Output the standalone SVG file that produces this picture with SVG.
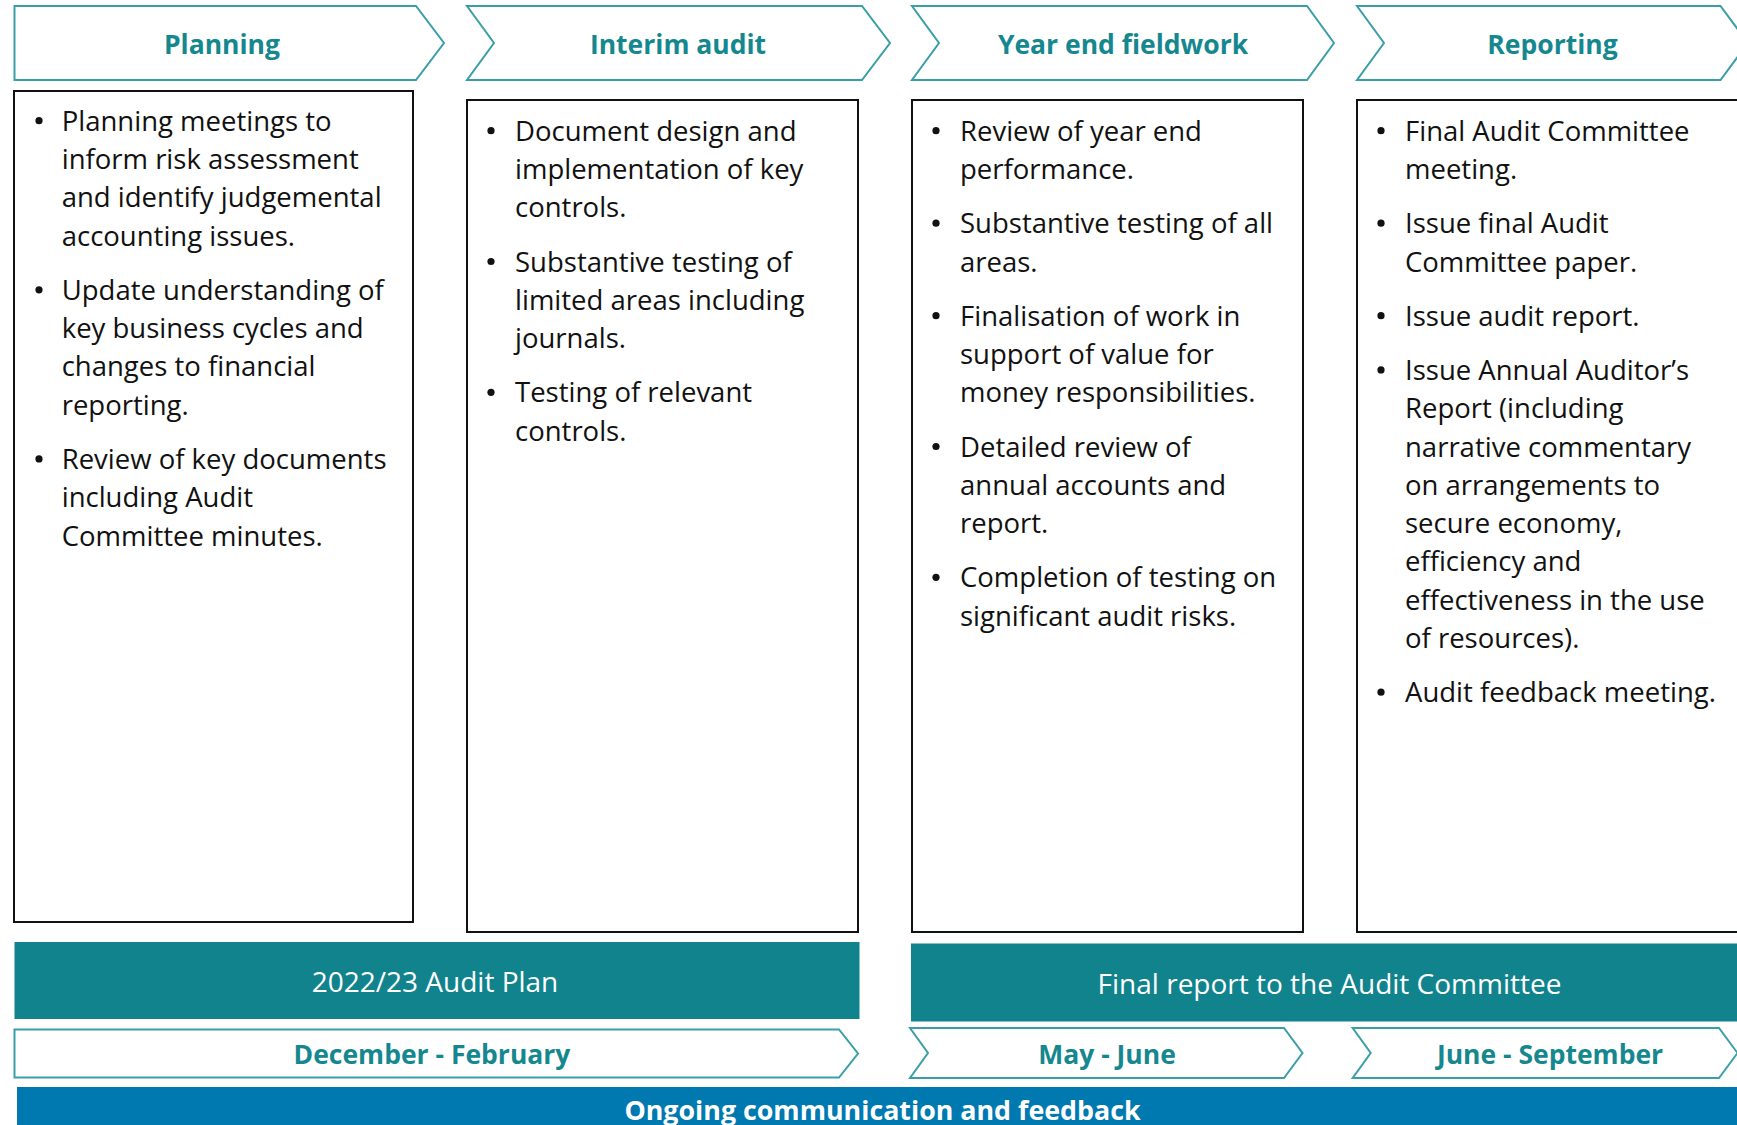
<svg xmlns="http://www.w3.org/2000/svg" width="1737" height="1125" viewBox="0 0 1737 1125">
<style>
.chev{fill:#ffffff;stroke:#3a9ea7;stroke-width:2}
.box{fill:#ffffff;stroke:#111111;stroke-width:2}
.hd{font-family:"Open Sans","Noto Sans",sans-serif;font-weight:700;font-size:26.5px;fill:#14878f;text-anchor:middle}
.dt{font-family:"Open Sans","Noto Sans",sans-serif;font-weight:700;font-size:26.5px;fill:#14878f;text-anchor:middle}
.body{font-family:"Open Sans","Noto Sans",sans-serif;font-size:27.5px;fill:#111111}
.bar{fill:#10838d}
.bt{font-family:"Open Sans","Noto Sans",sans-serif;font-size:28px;fill:#ffffff;text-anchor:middle}
.ong{fill:#0079b0}
.ot{font-family:"Open Sans","Noto Sans",sans-serif;font-weight:700;font-size:26.8px;fill:#ffffff;text-anchor:middle}
.dot{fill:#111111}
</style>
<rect width="1737" height="1125" fill="#ffffff"/>

<g id="planning">
<path class="chev" d="M14.5,6 L416,6 L444,43 L416,80 L14.5,80 Z"/>
<text class="hd" x="222" y="54">Planning</text>
<rect class="box" x="14" y="91" width="399" height="831"/>
<circle class="dot" cx="39" cy="120.7" r="3.6"/>
<circle class="dot" cx="39" cy="289.8" r="3.6"/>
<circle class="dot" cx="39" cy="458.9" r="3.6"/>
<text class="body">
<tspan x="61.7" y="130.7">Planning meetings to</tspan>
<tspan x="61.7" y="169">inform risk assessment</tspan>
<tspan x="61.7" y="207.3">and identify judgemental</tspan>
<tspan x="61.7" y="245.6">accounting issues.</tspan>
<tspan x="61.7" y="299.8">Update understanding of</tspan>
<tspan x="61.7" y="338.1">key business cycles and</tspan>
<tspan x="61.7" y="376.4">changes to financial</tspan>
<tspan x="61.7" y="414.7">reporting.</tspan>
<tspan x="61.7" y="468.9">Review of key documents</tspan>
<tspan x="61.7" y="507.2">including Audit</tspan>
<tspan x="61.7" y="545.5">Committee minutes.</tspan>
</text>
</g>

<g id="interim">
<path class="chev" d="M467,6 L862,6 L890,43 L862,80 L467,80 L494,43 Z"/>
<text class="hd" x="678" y="54">Interim audit</text>
<rect class="box" x="467" y="100" width="391" height="832"/>
<circle class="dot" cx="491" cy="130.7" r="3.6"/>
<circle class="dot" cx="491" cy="261.5" r="3.6"/>
<circle class="dot" cx="491" cy="392.3" r="3.6"/>
<text class="body">
<tspan x="515" y="140.7">Document design and</tspan>
<tspan x="515" y="179">implementation of key</tspan>
<tspan x="515" y="217.3">controls.</tspan>
<tspan x="515" y="271.5">Substantive testing of</tspan>
<tspan x="515" y="309.8">limited areas including</tspan>
<tspan x="515" y="348.1">journals.</tspan>
<tspan x="515" y="402.3">Testing of relevant</tspan>
<tspan x="515" y="440.6">controls.</tspan>
</text>
</g>

<g id="yearend">
<path class="chev" d="M912,6 L1307,6 L1334,43 L1307,80 L912,80 L939,43 Z"/>
<text class="hd" x="1123" y="54">Year end fieldwork</text>
<rect class="box" x="912" y="100" width="391" height="832"/>
<circle class="dot" cx="936" cy="130.7" r="3.6"/>
<circle class="dot" cx="936" cy="223.2" r="3.6"/>
<circle class="dot" cx="936" cy="315.7" r="3.6"/>
<circle class="dot" cx="936" cy="446.5" r="3.6"/>
<circle class="dot" cx="936" cy="577.3" r="3.6"/>
<text class="body">
<tspan x="960" y="140.7">Review of year end</tspan>
<tspan x="960" y="179">performance.</tspan>
<tspan x="960" y="233.2">Substantive testing of all</tspan>
<tspan x="960" y="271.5">areas.</tspan>
<tspan x="960" y="325.7">Finalisation of work in</tspan>
<tspan x="960" y="364">support of value for</tspan>
<tspan x="960" y="402.3">money responsibilities.</tspan>
<tspan x="960" y="456.5">Detailed review of</tspan>
<tspan x="960" y="494.8">annual accounts and</tspan>
<tspan x="960" y="533.1">report.</tspan>
<tspan x="960" y="587.3">Completion of testing on</tspan>
<tspan x="960" y="625.6">significant audit risks.</tspan>
</text>
</g>

<g id="reporting">
<path class="chev" d="M1357,6 L1720.5,6 L1748,43 L1720.5,80 L1357,80 L1384,43 Z"/>
<text class="hd" x="1552.5" y="54">Reporting</text>
<rect class="box" x="1357" y="100" width="420" height="832"/>
<circle class="dot" cx="1381" cy="130.7" r="3.6"/>
<circle class="dot" cx="1381" cy="223.2" r="3.6"/>
<circle class="dot" cx="1381" cy="315.7" r="3.6"/>
<circle class="dot" cx="1381" cy="369.9" r="3.6"/>
<circle class="dot" cx="1381" cy="692.2" r="3.6"/>
<text class="body">
<tspan x="1405" y="140.7">Final Audit Committee</tspan>
<tspan x="1405" y="179">meeting.</tspan>
<tspan x="1405" y="233.2">Issue final Audit</tspan>
<tspan x="1405" y="271.5">Committee paper.</tspan>
<tspan x="1405" y="325.7">Issue audit report.</tspan>
<tspan x="1405" y="379.9">Issue Annual Auditor’s</tspan>
<tspan x="1405" y="418.2">Report (including</tspan>
<tspan x="1405" y="456.5">narrative commentary</tspan>
<tspan x="1405" y="494.8">on arrangements to</tspan>
<tspan x="1405" y="533.1">secure economy,</tspan>
<tspan x="1405" y="571.4">efficiency and</tspan>
<tspan x="1405" y="609.7">effectiveness in the use</tspan>
<tspan x="1405" y="648">of resources).</tspan>
<tspan x="1405" y="702.2">Audit feedback meeting.</tspan>
</text>
</g>

<g id="audit-plan">
<rect class="bar" x="14.5" y="942" width="845" height="77"/>
<text class="bt" x="435" y="992">2022/23 Audit Plan</text>
</g>

<g id="final-report">
<rect class="bar" x="911" y="943.5" width="840" height="78"/>
<text class="bt" x="1329.5" y="994">Final report to the Audit Committee</text>
</g>

<g id="dec-feb">
<path class="chev" d="M14.5,1029.5 L839,1029.5 L858,1053.5 L839,1077.5 L14.5,1077.5 Z"/>
<text class="dt" x="432" y="1064">December - February</text>
</g>

<g id="may-june">
<path class="chev" d="M910,1028 L1284,1028 L1302.5,1053 L1284,1078 L910,1078 L928,1053 Z"/>
<text class="dt" x="1107" y="1064">May - June</text>
</g>

<g id="june-sept">
<path class="chev" d="M1352.7,1028 L1719,1028 L1737.5,1053 L1719,1078 L1352.7,1078 L1370.7,1053 Z"/>
<text class="dt" x="1550" y="1064">June - September</text>
</g>

<g id="ongoing">
<rect class="ong" x="17" y="1087" width="1730" height="45"/>
<text class="ot" x="882.5" y="1120">Ongoing communication and feedback</text>
</g>

<g id="connectors"></g>
</svg>
